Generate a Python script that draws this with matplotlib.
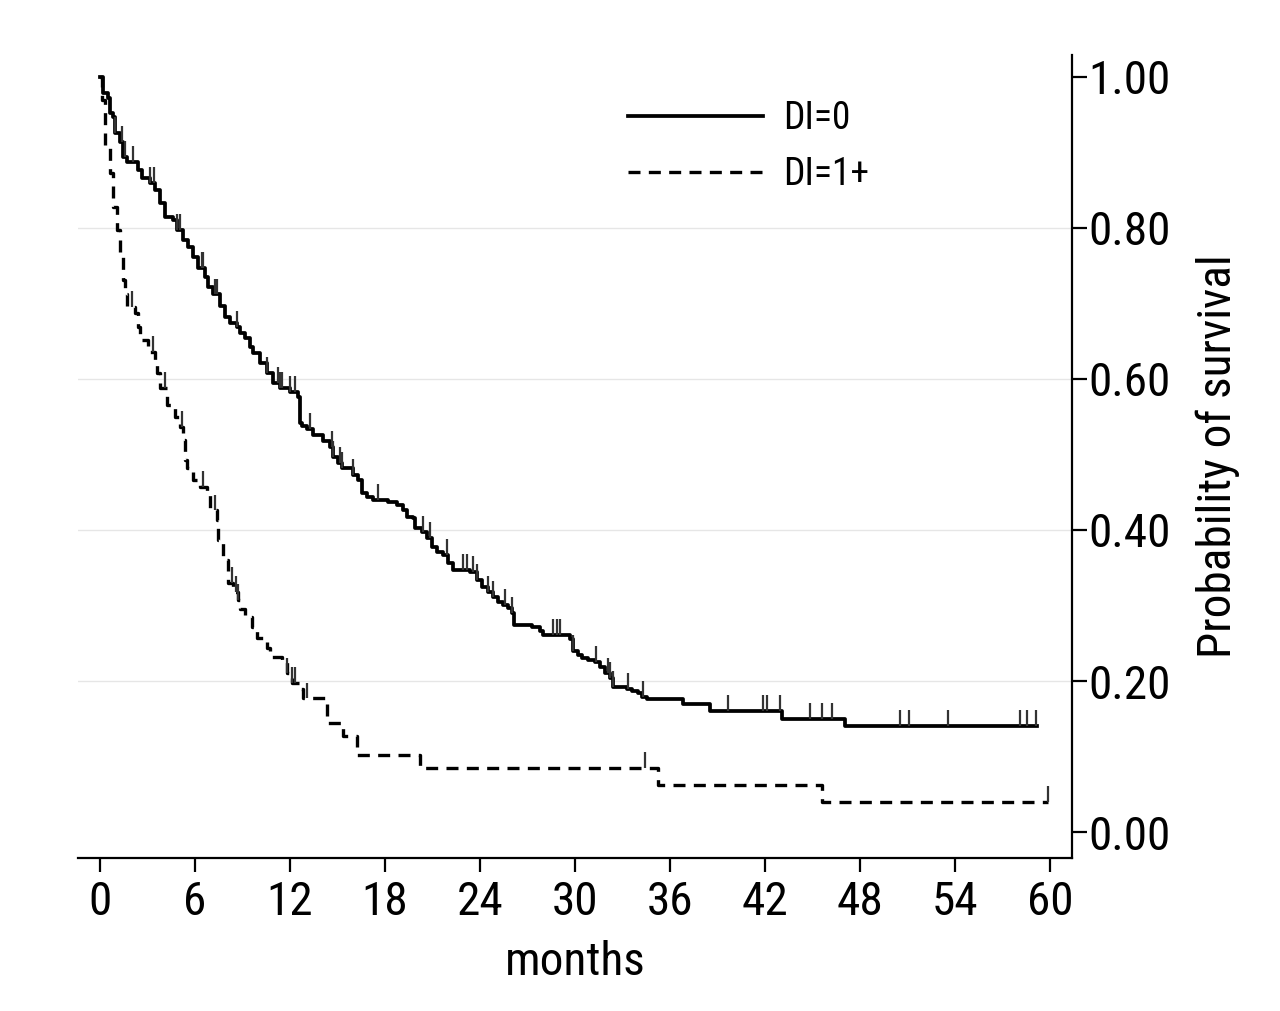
import numpy as np
import matplotlib
matplotlib.use("Agg")
import matplotlib.pyplot as plt

plt.rcParams['font.family'] = ['Roboto Condensed', 'Archivo Narrow', 'DejaVu Sans']

# Kaplan-Meier steps (months, survival after the step)
di0_time = [0, 0.19, 0.51, 0.63, 0.82, 0.95, 1.26, 1.45, 1.71, 2.40, 2.65, 3.16, 3.47,
            3.79, 4.11, 4.61, 4.86, 5.24, 5.56, 5.87, 6.19, 6.63, 6.82, 7.14, 7.58,
            7.90, 8.21, 8.65, 8.84, 9.16, 9.48, 9.67, 10.11, 10.55, 10.93, 11.37, 12.0,
            12.51, 12.63, 12.76, 13.08, 13.46, 14.09, 14.53, 14.72, 15.03, 15.29, 15.98,
            16.30, 16.55, 16.87, 17.25, 18.19, 18.76, 19.14, 19.39, 19.77, 19.90, 20.34,
            20.66, 20.97, 21.29, 21.67, 21.98, 22.30, 23.37, 23.82, 24.13, 24.51, 24.83,
            25.14, 25.46, 25.77, 26.03, 26.15, 27.29, 27.80, 27.98, 29.69, 29.88, 30.20,
            30.45, 30.83, 31.27, 31.59, 31.90, 32.22, 32.41, 33.29, 33.61, 33.99, 34.24,
            34.55, 36.83, 38.53, 43.08, 47.06, 59.19]
di0_surv = [1.0, 0.979, 0.972, 0.952, 0.947, 0.926, 0.914, 0.894, 0.887, 0.877, 0.866,
            0.860, 0.850, 0.833, 0.815, 0.810, 0.797, 0.784, 0.775, 0.762, 0.747, 0.735,
            0.722, 0.712, 0.697, 0.682, 0.674, 0.669, 0.661, 0.654, 0.642, 0.634, 0.621,
            0.608, 0.595, 0.588, 0.583, 0.576, 0.542, 0.538, 0.534, 0.526, 0.518, 0.510,
            0.497, 0.489, 0.482, 0.473, 0.466, 0.449, 0.444, 0.440, 0.437, 0.433, 0.426,
            0.417, 0.416, 0.403, 0.397, 0.389, 0.377, 0.371, 0.367, 0.356, 0.347, 0.344,
            0.334, 0.325, 0.318, 0.311, 0.305, 0.301, 0.297, 0.290, 0.274, 0.271, 0.266,
            0.261, 0.255, 0.240, 0.234, 0.230, 0.228, 0.225, 0.219, 0.210, 0.204, 0.192,
            0.190, 0.187, 0.184, 0.179, 0.176, 0.170, 0.160, 0.150, 0.140, 0.140]
di0_cens = [0.95, 1.39, 1.58, 2.08, 3.16, 3.41, 4.86, 5.05, 6.44, 6.51, 7.26, 7.39, 8.65,
            10.55, 11.24, 11.37, 11.50, 12.0, 12.32, 13.27, 14.66, 14.72, 15.16, 15.29,
            15.98, 17.56, 20.40, 20.85, 21.92, 22.93, 23.18, 23.56, 23.82, 24.51, 24.83,
            25.58, 26.03, 28.62, 28.87, 29.06, 29.88, 31.33, 32.09, 32.22, 32.41, 33.35,
            34.30, 39.67, 41.88, 42.13, 42.96, 44.85, 45.61, 46.24, 50.54, 51.11, 53.57,
            58.12, 58.56, 59.13]

di1_time = [0, 0.13, 0.32, 0.63, 0.82, 1.07, 1.26, 1.45, 1.58, 1.71, 2.21, 2.40, 2.53,
            3.03, 3.47, 3.60, 3.79, 4.23, 4.74, 5.05, 5.24, 5.37, 5.50, 5.87, 6.32, 6.76,
            6.95, 7.39, 7.45, 7.77, 8.09, 8.40, 8.72, 8.84, 9.16, 9.60, 9.92, 10.55,
            10.74, 11.50, 11.81, 12.13, 12.63, 12.82, 14.34, 15.35, 16.24, 20.20, 35.25,
            45.60, 59.89]
di1_surv = [1.0, 0.970, 0.907, 0.873, 0.828, 0.797, 0.767, 0.731, 0.712, 0.695, 0.687,
            0.669, 0.652, 0.636, 0.625, 0.608, 0.588, 0.566, 0.550, 0.536, 0.519, 0.493,
            0.482, 0.466, 0.457, 0.446, 0.426, 0.413, 0.387, 0.360, 0.330, 0.318, 0.307,
            0.296, 0.285, 0.272, 0.257, 0.244, 0.232, 0.228, 0.210, 0.197, 0.190, 0.177,
            0.144, 0.127, 0.102, 0.085, 0.062, 0.040, 0.040]
di1_cens = [2.02, 3.35, 4.11, 5.18, 6.51, 7.26, 8.34, 8.59, 8.72, 11.81, 12.13, 12.32,
            13.08, 34.43, 59.89]

x_ticks = [0, 6, 12, 18, 24, 30, 36, 42, 48, 54, 60]
y_ticks = [0.0, 0.2, 0.4, 0.6, 0.8, 1.0]


def surv_at(times, surv, t):
    idx = np.searchsorted(times, t, side='right') - 1
    return np.asarray(surv)[idx]


fig = plt.figure(figsize=(12.8, 10.11), dpi=100)
ax = fig.add_axes([0.061, 0.1513, 0.7765, 0.7943])

for g in [0.2, 0.4, 0.6, 0.8]:
    ax.axhline(g, color='#e6e6e6', lw=1, zorder=0)

ax.step(di0_time, di0_surv, where='post', color='black', lw=2.7, label='DI=0')
ax.step(di1_time, di1_surv, where='post', color='black', lw=2.4,
        linestyle=(0, (3.6, 2.5)), label='DI=1+')

# censoring marks
c0 = surv_at(di0_time, di0_surv, di0_cens)
ax.vlines(di0_cens, c0, c0 + 0.021, color='#333333', lw=1.6)
c1 = surv_at(di1_time, di1_surv, di1_cens)
ax.vlines(di1_cens, c1, c1 + 0.021, color='#333333', lw=1.6)

ax.set_xlim(-1.39, 61.4)
ax.set_ylim(-0.0344, 1.029)

ax.spines['top'].set_visible(False)
ax.spines['left'].set_visible(False)
ax.spines['bottom'].set_linewidth(1.6)
ax.spines['right'].set_linewidth(1.6)

ax.yaxis.tick_right()
ax.yaxis.set_label_position('right')
ax.set_xticks(x_ticks)
ax.set_yticks(y_ticks)
ax.set_yticklabels([f'{v:.2f}' for v in y_ticks])
ax.tick_params(axis='x', length=10, width=1.6, pad=6, labelsize=34)
ax.tick_params(axis='y', length=11, width=1.6, pad=1, labelsize=34)

ax.set_xlabel('months', fontsize=34, labelpad=11)
ax.set_ylabel('Probability of survival', fontsize=34, labelpad=18)

ax.legend(loc='upper left', bbox_to_anchor=(0.553, 0.944), frameon=False,
          fontsize=27, handlelength=3.6, handletextpad=0.55, labelspacing=0.5,
          borderpad=0, borderaxespad=0)

fig.savefig('out.png', dpi=100)
